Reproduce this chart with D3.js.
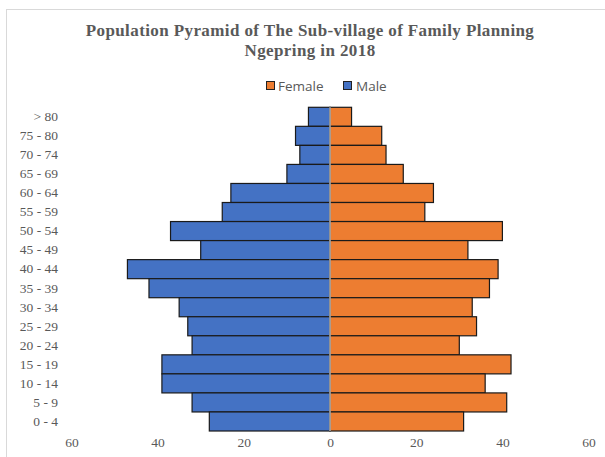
<!DOCTYPE html>
<html>
<head>
<meta charset="utf-8">
<script src="https://cdn.jsdelivr.net/npm/d3@7"></script>
<style>
  html, body { margin: 0; padding: 0; background: #fff; }
  svg { display: block; }
</style>
</head>
<body>
<svg id="chart" width="605" height="457"></svg>
<script>
const ageGroups = ["> 80","75 - 80","70 - 74","65 - 69","60 - 64","55 - 59","50 - 54","45 - 49","40 - 44","35 - 39","30 - 34","25 - 29","20 - 24","15 - 19","10 - 14","5 - 9","0 - 4"];
const maleValues   = [5, 8, 7, 10, 23, 25, 37, 30, 47, 42, 35, 33, 32, 39, 39, 32, 28];
const femaleValues = [5, 12, 13, 17, 24, 22, 40, 32, 39, 37, 33, 34, 30, 42, 36, 41, 31];
const xTicks = [-60, -40, -20, 0, 20, 40, 60];
const titleLines = ["Population Pyramid of The Sub-village of Family Planning", "Ngepring in 2018"];
const legendItems = [{name: "Female", color: "#ED7D31"}, {name: "Male", color: "#4472C4"}];

const svg = d3.select("#chart");

// chart frame
svg.append("rect").attr("x", 6.5).attr("y", 9.5).attr("width", 620).attr("height", 470)
  .attr("fill", "none").attr("stroke", "#d9d9d9").attr("stroke-width", 1);

const x = d3.scaleLinear().domain([-60, 60]).range([71.4, 588.6]);
const y = d3.scaleBand().domain(ageGroups).range([107.3, 431]).padding(0);

// title
svg.append("g").selectAll("text").data(titleLines).join("text")
  .attr("x", 310).attr("y", (d, i) => 35.5 + i * 20)
  .attr("text-anchor", "middle")
  .attr("font-family", "'Liberation Serif', 'Times New Roman', serif")
  .attr("font-weight", "bold").attr("font-size", 17).attr("letter-spacing", 0.4).attr("fill", "#595959")
  .text(d => d);

// legend
const legend = svg.append("g").attr("font-family", "'Open Sans', 'Liberation Sans', sans-serif")
  .attr("font-size", 13.5).attr("fill", "#595959");
const legMarkX = [266, 343];
const legTextX = [278, 356];
legendItems.forEach((it, i) => {
  legend.append("rect").attr("x", legMarkX[i] + 0.5).attr("y", 81.5).attr("width", 8).attr("height", 8)
    .attr("fill", it.color).attr("stroke", "#222").attr("stroke-width", 1);
  legend.append("text").attr("x", legTextX[i]).attr("y", 90.5).text(it.name).attr("fill", "#595959");
});

// male bars
svg.append("g").selectAll("rect").data(ageGroups).join("rect")
  .attr("x", (d, i) => x(-maleValues[i]))
  .attr("y", d => y(d))
  .attr("width", (d, i) => x(0) - x(-maleValues[i]))
  .attr("height", y.bandwidth())
  .attr("fill", "#4472C4").attr("stroke", "#1a1a1a").attr("stroke-width", 1.2);

// female bars
svg.append("g").selectAll("rect").data(ageGroups).join("rect")
  .attr("x", x(0))
  .attr("y", d => y(d))
  .attr("width", (d, i) => x(femaleValues[i]) - x(0))
  .attr("height", y.bandwidth())
  .attr("fill", "#ED7D31").attr("stroke", "#1a1a1a").attr("stroke-width", 1.2);

// center axis line
svg.append("line").attr("x1", x(0)).attr("x2", x(0)).attr("y1", 107.3).attr("y2", 431)
  .attr("stroke", "#d9d9d9").attr("stroke-width", 1.2);

// y axis labels
const yAxis = d3.axisLeft(y).tickSize(0).tickPadding(0);
const yg = svg.append("g").attr("transform", "translate(58,0)").call(yAxis);
yg.select(".domain").remove();
yg.selectAll("text").attr("font-family", "'Liberation Serif', 'Times New Roman', serif")
  .attr("font-size", 13.5).attr("fill", "#595959");

// x axis labels
const xAxis = d3.axisBottom(x).tickValues(xTicks).tickFormat(d => Math.abs(d)).tickSize(0).tickPadding(0);
const xg = svg.append("g").attr("transform", "translate(0,437)").call(xAxis);
xg.select(".domain").remove();
xg.selectAll("text").attr("font-family", "'Liberation Serif', 'Times New Roman', serif")
  .attr("font-size", 13.5).attr("fill", "#595959");
</script>
</body>
</html>
